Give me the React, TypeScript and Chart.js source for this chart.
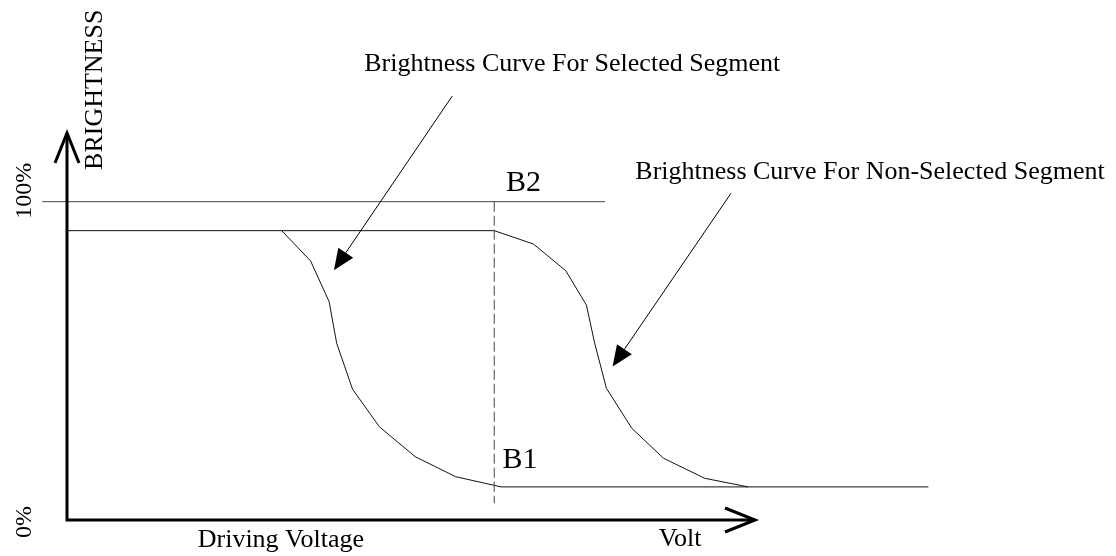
import React, { useEffect, useRef } from "react";
import { Chart, registerables } from "chart.js";

Chart.register(...registerables);

// ---- data (voltage in arbitrary volt units, brightness in %) ----
const selectedVolt = [3.12, 3.54, 3.81, 3.92, 4.15, 4.54, 5.06, 5.65, 6.31, 12.52];
const selectedBright = [90.9, 81.4, 68.6, 55.5, 41.1, 29.3, 19.9, 13.6, 10.4, 10.4];
const nonSelectedVolt = [0, 6.21, 6.78, 7.25, 7.55, 7.67, 7.84, 8.21, 8.67, 9.27, 9.9];
const nonSelectedBright = [90.9, 90.9, 86.7, 78.3, 67.5, 55.5, 41.4, 28.8, 19.4, 13.1, 10.4];
const fullLineVolt = [-0.36, 7.82];
const fullLineBright = [100, 100];
const markerVolt = [6.21, 6.21];
const markerBright = [100, 5.3];
const yTickValues = [0, 100];
const yTickLabels = ["0%", "100%"];
const axisXEnd = 10;
const axisYEnd = 121.6;

// annotation texts
const noteSelected = "Brightness Curve For Selected Segment";
const noteNonSelected = "Brightness Curve For Non-Selected Segment";
const xTitle = "Driving Voltage";
const xUnit = "Volt";
const yTitle = "BRIGHTNESS";
const labelB1 = "B1";
const labelB2 = "B2";

// ---- layout constants (pixels) ----
const W = 1116;
const H = 556;
const ORIGIN_X = 67;
const ORIGIN_Y = 520;
const PX_PER_VOLT = 68.8;
const PX_PER_PCT = 3.183;
const X_MIN = -ORIGIN_X / PX_PER_VOLT;
const X_MAX = (W - ORIGIN_X) / PX_PER_VOLT;
const Y_MIN = -(H - ORIGIN_Y) / PX_PER_PCT;
const Y_MAX = ORIGIN_Y / PX_PER_PCT;
const FONT = "'Liberation Serif', 'Times New Roman', serif";

const zip = (xs: number[], ys: number[]) => xs.map((x, i) => ({ x, y: ys[i] }));

const diagramPlugin = {
  id: "diagram",
  afterDatasetsDraw(chart: any) {
    const ctx: CanvasRenderingContext2D = chart.ctx;
    const xs = chart.scales.x;
    const ys = chart.scales.y;
    const px = (v: number) => xs.getPixelForValue(v);
    const py = (v: number) => ys.getPixelForValue(v);
    ctx.save();
    ctx.strokeStyle = "#000";
    ctx.fillStyle = "#000";

    // axes
    const ox = px(0);
    const oy = py(0);
    const yTop = py(axisYEnd);
    const xEnd = px(axisXEnd);
    ctx.lineWidth = 3;
    ctx.lineJoin = "miter";
    ctx.beginPath();
    ctx.moveTo(ox, yTop);
    ctx.lineTo(ox, oy);
    ctx.lineTo(xEnd, oy);
    ctx.stroke();
    // chevrons
    ctx.beginPath();
    ctx.moveTo(ox - 12, yTop + 30);
    ctx.lineTo(ox, yTop);
    ctx.lineTo(ox + 12, yTop + 30);
    ctx.stroke();
    ctx.beginPath();
    ctx.moveTo(xEnd - 30, oy - 12);
    ctx.lineTo(xEnd, oy);
    ctx.lineTo(xEnd - 30, oy + 12);
    ctx.stroke();

    // y tick labels (rotated)
    ctx.textBaseline = "alphabetic";
    ctx.font = `24px ${FONT}`;
    ctx.textAlign = "center";
    const tickOffsets = [-2, 11];
    yTickValues.forEach((v, i) => {
      ctx.save();
      ctx.translate(31, py(v) - tickOffsets[i]);
      ctx.rotate(-Math.PI / 2);
      ctx.fillText(yTickLabels[i], 0, 0);
      ctx.restore();
    });

    // y title
    ctx.font = `26px ${FONT}`;
    ctx.save();
    ctx.translate(ox + 35, yTop + 37);
    ctx.rotate(-Math.PI / 2);
    ctx.textAlign = "left";
    ctx.fillText(yTitle, 0, 0);
    ctx.restore();

    // x titles
    ctx.textAlign = "left";
    ctx.fillText(xTitle, px(1.9), oy + 27);
    ctx.fillText(xUnit, px(8.6), oy + 26);

    // B labels
    ctx.font = `30px ${FONT}`;
    ctx.fillText(labelB2, px(6.38), py(103.5));
    ctx.fillText(labelB1, px(6.33), py(16.2));

    // annotations with arrows
    ctx.font = `26px ${FONT}`;
    ctx.fillText(noteSelected, px(4.32), py(141.2));
    ctx.fillText(noteNonSelected, px(8.26), py(107.1));

    const arrow = (x1: number, y1: number, x2: number, y2: number) => {
      const ax = px(x1), ay = py(y1), bx = px(x2), by = py(y2);
      const ang = Math.atan2(by - ay, bx - ax);
      const len = 21;
      const hw = 9;
      const baseX = bx - len * Math.cos(ang);
      const baseY = by - len * Math.sin(ang);
      ctx.lineWidth = 1;
      ctx.beginPath();
      ctx.moveTo(ax, ay);
      ctx.lineTo(baseX, baseY);
      ctx.stroke();
      ctx.beginPath();
      ctx.moveTo(bx, by);
      ctx.lineTo(baseX + hw * Math.sin(ang), baseY - hw * Math.cos(ang));
      ctx.lineTo(baseX - hw * Math.sin(ang), baseY + hw * Math.cos(ang));
      ctx.closePath();
      ctx.fill();
    };
    arrow(5.6, 133.2, 3.88, 78.5);
    arrow(9.65, 102.6, 7.93, 48.2);

    ctx.restore();
  },
};

export default function App() {
  const canvasRef = useRef<HTMLCanvasElement | null>(null);

  useEffect(() => {
    if (!canvasRef.current) return;
    const lineDs = (data: any[], color: string, extra: any = {}) => ({
      data,
      showLine: true,
      borderColor: color,
      borderWidth: 1,
      pointRadius: 0,
      tension: 0,
      fill: false,
      ...extra,
    });
    const chart = new Chart(canvasRef.current, {
      type: "scatter",
      data: {
        datasets: [
          lineDs(zip(fullLineVolt, fullLineBright), "#444"),
          lineDs(zip(markerVolt, markerBright), "#444", { borderDash: [10, 4] }),
          lineDs(zip(nonSelectedVolt, nonSelectedBright), "#111"),
          lineDs(zip(selectedVolt, selectedBright), "#111"),
        ],
      },
      options: {
        animation: false,
        responsive: false,
        devicePixelRatio: 1,
        events: [],
        layout: { padding: 0 },
        plugins: { legend: { display: false }, tooltip: { enabled: false } },
        scales: {
          x: { type: "linear", display: false, min: X_MIN, max: X_MAX },
          y: { type: "linear", display: false, min: Y_MIN, max: Y_MAX },
        },
      },
      plugins: [diagramPlugin],
    });
    return () => chart.destroy();
  }, []);

  return (
    <div style={{ position: "fixed", left: 0, top: 0, width: W, height: H, background: "#fff" }}>
      <canvas ref={canvasRef} width={W} height={H} style={{ display: "block" }} />
    </div>
  );
}
